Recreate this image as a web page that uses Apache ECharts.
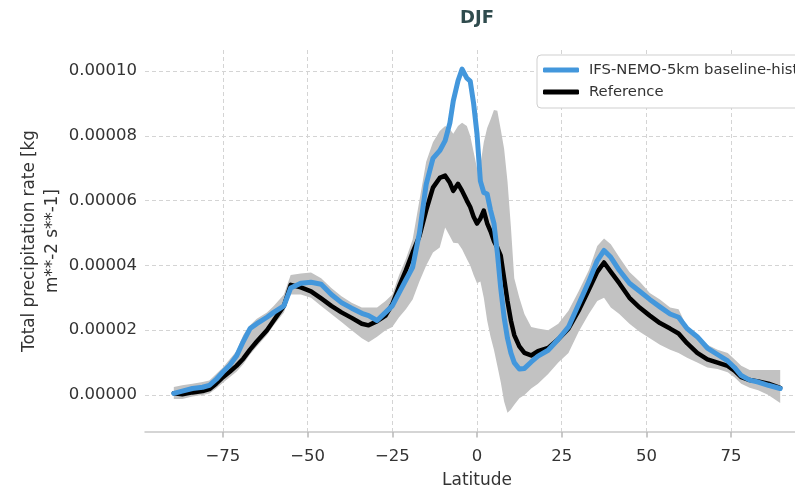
<!DOCTYPE html>
<html>
<head>
<meta charset="utf-8">
<title>DJF zonal mean precipitation</title>
<script src="https://cdn.jsdelivr.net/npm/echarts@6/dist/echarts.min.js"></script>
<style>
  html, body { margin: 0; padding: 0; background: #fff; }
  #chart { width: 795px; height: 491px; }
</style>
</head>
<body>
<div id="chart"></div>
<script>
  // zonal means, values in units of 1e-5 kg m**-2 s**-1
  const latitudes = [
    -89.5, -87, -84, -81, -79, -77, -75, -73, -71, -69,
    -67, -65, -62, -60, -57, -55, -52, -49, -46, -43,
    -40, -37, -34, -32, -29.5, -27, -25, -23, -21, -19,
    -17, -15, -13, -11, -9.4, -8, -7, -5.6, -4.4, -3,
    -2, -1, 0, 1, 2, 3, 4, 5, 6, 7,
    8, 9, 10, 11, 12.5, 14, 16, 18, 21, 24,
    27, 30, 33, 35.5, 37.5, 39.5, 42, 45, 48, 51,
    54, 57, 59.5, 62, 65, 68, 71, 74, 76, 78,
    80.5, 83, 86, 89.5
  ];
  const modelValues = [
    0.05, 0.12, 0.2, 0.24, 0.3, 0.48, 0.71, 0.92, 1.2, 1.65,
    2.05, 2.2, 2.4, 2.55, 2.75, 3.3, 3.45, 3.48, 3.42, 3.1,
    2.85, 2.68, 2.52, 2.45, 2.3, 2.55, 2.75, 3.15, 3.55, 3.94,
    5.0, 6.5, 7.3, 7.54, 7.85, 8.4, 9.08, 9.7, 10.06, 9.78,
    9.69, 9.0, 8.06, 6.6, 6.25, 6.2, 5.7, 5.3, 4.4, 3.3,
    2.4, 1.75, 1.3, 1.0, 0.8, 0.82, 1.02, 1.2, 1.38, 1.72,
    2.1, 2.8, 3.5, 4.15, 4.46, 4.25, 3.85, 3.45, 3.2, 2.95,
    2.72, 2.5, 2.4, 2.05, 1.8, 1.45, 1.25, 1.05, 0.85, 0.6,
    0.46, 0.4, 0.3, 0.2
  ];
  const referenceValues = [
    0.05, 0.02, 0.08, 0.12, 0.18, 0.35, 0.55, 0.72, 0.9, 1.12,
    1.4, 1.65, 2.0, 2.3, 2.75, 3.4, 3.32, 3.2, 2.98, 2.75,
    2.55, 2.38, 2.2, 2.15, 2.28, 2.45, 2.8, 3.35, 3.85, 4.4,
    4.9, 5.7, 6.4, 6.7, 6.77, 6.55, 6.3, 6.52, 6.3, 6.0,
    5.8, 5.5, 5.29, 5.45, 5.69, 5.3, 5.05, 4.75, 4.55, 4.3,
    3.6, 2.9, 2.3, 1.85, 1.5, 1.3, 1.22, 1.35, 1.45, 1.72,
    2.05, 2.6, 3.25, 3.8, 4.09, 3.8, 3.45, 3.0, 2.7, 2.45,
    2.22, 2.05, 1.9, 1.6, 1.3, 1.1, 1.0, 0.9, 0.75, 0.55,
    0.46, 0.42, 0.35, 0.22
  ];
  // spread of the reference datasets (grey band)
  const bandLower = [
    -0.12, -0.12, -0.05, 0.0, 0.05, 0.2, 0.38, 0.55, 0.72, 0.95,
    1.25, 1.5, 1.85, 2.15, 2.55, 3.1, 3.1, 3.0, 2.75, 2.5,
    2.25, 2.0, 1.75, 1.63, 1.8, 2.0, 2.1, 2.4, 2.65, 2.95,
    3.5, 4.0, 4.4, 4.55, 5.17, 4.9, 4.7, 4.68, 4.5, 4.2,
    4.0, 3.7, 3.45, 3.5, 3.0, 2.3, 1.8, 1.4, 0.9, 0.4,
    -0.2, -0.55, -0.45, -0.3, -0.1, 0.0, 0.2, 0.35, 0.65, 1.0,
    1.3, 1.95, 2.5, 2.9, 3.0, 2.7, 2.5, 2.2, 1.95, 1.75,
    1.55, 1.4, 1.3, 1.15, 1.0, 0.85, 0.8, 0.7, 0.55, 0.35,
    0.22, 0.15, 0.0, -0.25
  ];
  const bandUpper = [
    0.25, 0.3, 0.35, 0.4, 0.45, 0.65, 0.85, 1.1, 1.35, 1.85,
    2.15, 2.35, 2.55, 2.75, 3.1, 3.7, 3.75, 3.78, 3.6, 3.3,
    3.05, 2.85, 2.7, 2.7, 2.7, 2.9, 3.1, 3.7, 4.2, 4.8,
    6.0, 7.2, 7.8, 8.15, 8.3, 8.2, 8.06, 8.3, 8.4, 8.3,
    8.0, 7.5, 7.0, 7.1, 7.8, 8.24, 8.5, 8.8, 8.77, 8.2,
    7.6, 6.6, 5.2, 3.6, 3.0, 2.5, 2.1, 2.05, 2.0, 2.2,
    2.6, 3.2, 3.85, 4.6, 4.83, 4.65, 4.25, 3.8, 3.5, 3.15,
    2.95, 2.7, 2.65, 2.1, 1.85, 1.55, 1.4, 1.3, 1.1, 0.9,
    0.77, 0.77, 0.77, 0.77
  ];
  const xTickStep = 25;
  const yTickStep = 2;

  const FONT = 'DejaVu Sans';
  const TEXT = '#333333';
  const GRID_LINE = { color: '#d4d4d4', width: 1, type: [4, 3] };

  const pairs = vals => latitudes.map((lat, i) => [lat, vals[i]]);
  const bandData = latitudes.map((lat, i) => [lat, bandLower[i], bandUpper[i]]);

  // whole band drawn as one polygon: upper edge west->east, lower edge back
  function renderBand(params, api) {
    if (params.dataIndex !== 0) return;
    const top = bandData.map(d => api.coord([d[0], d[2]]));
    const bottom = bandData.map(d => api.coord([d[0], d[1]])).reverse();
    return {
      type: 'polygon',
      shape: { points: top.concat(bottom) },
      style: { fill: '#c2c2c2' },
      silent: true
    };
  }

  const chart = echarts.init(document.getElementById('chart'));
  chart.setOption({
    animation: false,
    backgroundColor: '#ffffff',
    textStyle: { fontFamily: FONT },
    title: {
      text: 'DJF',
      left: 460,
      top: 9,
      padding: 0,
      textStyle: { fontFamily: FONT, fontSize: 18, fontWeight: 'bold', color: '#2f4b4d' }
    },
    legend: {
      data: ['IFS-NEMO-5km baseline-hist', 'Reference'],
      orient: 'vertical',
      left: 537,
      top: 55,
      icon: 'roundRect',
      itemWidth: 36,
      itemHeight: 5,
      itemGap: 4,
      padding: [6, 30, 7, 6],
      borderColor: '#cfcfcf',
      borderWidth: 1,
      borderRadius: 4,
      backgroundColor: '#ffffff',
      textStyle: { fontFamily: FONT, fontSize: 14.8, color: TEXT, lineHeight: 18, padding: [0, 0, 0, 5] }
    },
    grid: {
      left: 145,
      right: -14,
      top: 50,
      bottom: 59,
      containLabel: false,
      outerBoundsMode: 'none'
    },
    xAxis: {
      type: 'value',
      min: -98,
      max: 98,
      minInterval: xTickStep,
      maxInterval: xTickStep,
      name: 'Latitude',
      nameLocation: 'middle',
      nameGap: 40,
      nameTextStyle: { fontFamily: FONT, fontSize: 17, color: TEXT },
      axisLine: { show: true, onZero: false, lineStyle: { color: '#c8c8c8', width: 1.5 } },
      axisTick: { show: true, length: 5.5, lineStyle: { color: '#b8b8b8', width: 1.5 } },
      axisLabel: {
        fontFamily: FONT, fontSize: 16.5, color: TEXT, margin: 16,
        showMinLabel: false, showMaxLabel: false,
        formatter: v => String(v).replace('-', '\u2212')
      },
      splitLine: { show: true, showMinLine: false, showMaxLine: false, lineStyle: GRID_LINE }
    },
    yAxis: {
      type: 'value',
      min: -1.142,
      max: 10.648,
      minInterval: yTickStep,
      maxInterval: yTickStep,
      name: 'Total precipitation rate [kg\nm**-2 s**-1]',
      nameLocation: 'middle',
      nameGap: 81,
      nameMoveOverlap: false,
      nameTextStyle: { fontFamily: FONT, fontSize: 16.8, color: TEXT, lineHeight: 23 },
      axisLine: { show: false },
      axisTick: { show: false },
      axisLabel: {
        fontFamily: FONT, fontSize: 16.5, color: TEXT, margin: 8,
        showMinLabel: false, showMaxLabel: false,
        formatter: v => (v * 1e-5).toFixed(5)
      },
      splitLine: { show: true, showMinLine: false, showMaxLine: false, lineStyle: GRID_LINE }
    },
    series: [
      {
        name: 'band',
        type: 'custom',
        data: bandData,
        encode: { x: 0, y: [1, 2] },
        renderItem: renderBand,
        clip: true,
        silent: true,
        z: 1
      },
      {
        name: 'Reference',
        type: 'line',
        data: pairs(referenceValues),
        symbol: 'none',
        color: '#000000',
        z: 2,
        lineStyle: { color: '#000000', width: 4.5, join: 'round', cap: 'round' }
      },
      {
        name: 'IFS-NEMO-5km baseline-hist',
        type: 'line',
        data: pairs(modelValues),
        symbol: 'none',
        color: '#4397dc',
        z: 3,
        lineStyle: { color: '#4397dc', width: 5, join: 'round', cap: 'round' }
      }
    ]
  });
</script>
</body>
</html>
